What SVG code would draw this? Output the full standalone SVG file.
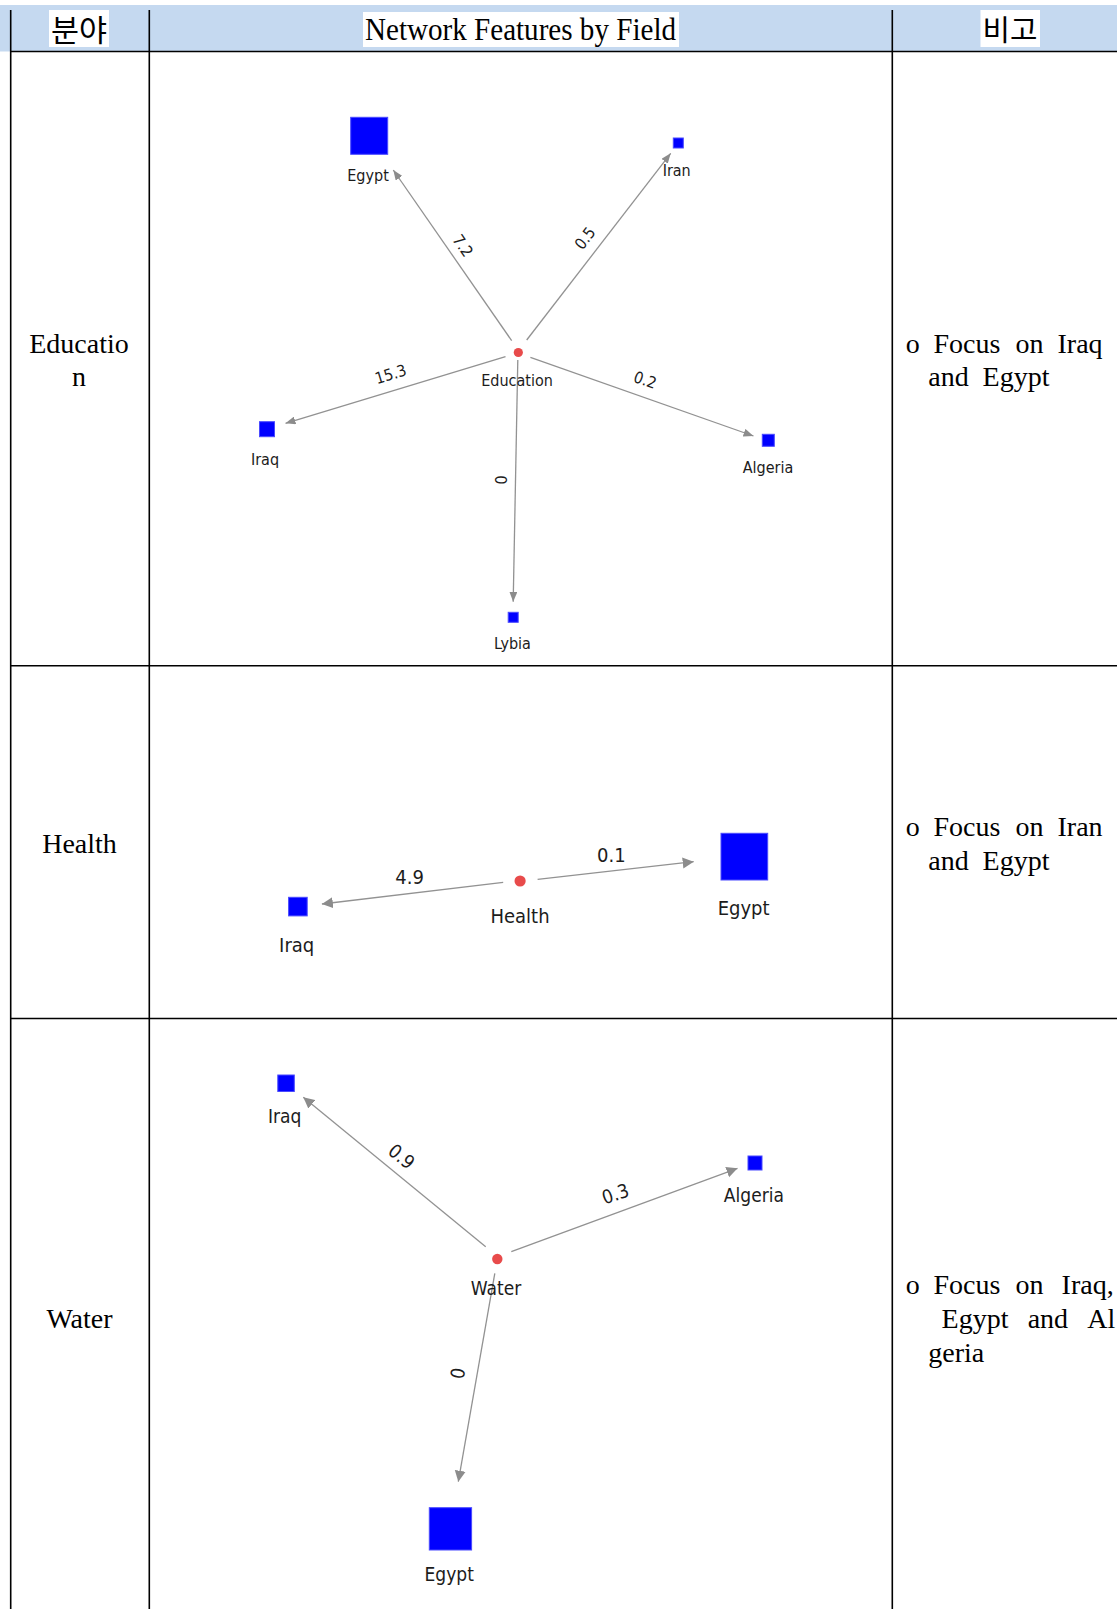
<svg xmlns="http://www.w3.org/2000/svg" width="1117" height="1609" viewBox="0 0 1117 1609">
  <style>
    .grid { stroke: #000; stroke-width: 1.6; fill: none; }
    .serif { font-family: "Liberation Serif", "Times New Roman", serif; font-size: 28px; fill: #000; }
    .kr { font-family: "Noto Sans CJK KR", sans-serif; fill: #000; }
    .lbl { font-family: "DejaVu Sans Condensed", "DejaVu Sans", sans-serif; fill: #1c1c1c; text-anchor: middle; }
    .s16 { font-size: 16px; }
    .s19 { font-size: 19px; }
    .s20 { font-size: 20px; }
    .sq { fill: #0000ff; stroke: #4a4aff; stroke-width: 1; }
    .hub { fill: #e84b4b; }
    .edge { stroke: #929292; stroke-width: 1.3; fill: none; }
    .edge-s { marker-end: url(#arrow-s); }
    .edge-l { marker-end: url(#arrow-l); }
  </style>
  <defs>
    <marker id="arrow-s" viewBox="0 0 10 8" refX="10" refY="4" markerUnits="userSpaceOnUse" markerWidth="10" markerHeight="8" orient="auto">
      <path d="M0,0 L10,4 L0,8 z" fill="#8c8c8c"/>
    </marker>
    <marker id="arrow-l" viewBox="0 0 10 10" refX="10" refY="5" markerUnits="userSpaceOnUse" markerWidth="11" markerHeight="12" orient="auto">
      <path d="M0,0 L10,5 L0,10 z" fill="#8c8c8c"/>
    </marker>
  </defs>

  <rect width="1117" height="1609" fill="#fff"/>

  <!-- table header band -->
  <rect x="0" y="5" width="1117" height="46.5" fill="#c5d9f0"/>
  <g id="header">
    <rect x="49" y="10" width="60" height="37" fill="#fff"/>
    <text class="kr" x="51" y="41" font-size="30" textLength="56" lengthAdjust="spacingAndGlyphs">분야</text>
    <rect x="363" y="12" width="316" height="35" fill="#fff"/>
    <text class="serif" x="365" y="40" font-size="32" style="font-size:32px" textLength="311" lengthAdjust="spacingAndGlyphs">Network Features by Field</text>
    <rect x="980.5" y="10" width="59.5" height="37" fill="#fff"/>
    <text class="kr" x="982.5" y="41" font-size="29" textLength="55" lengthAdjust="spacingAndGlyphs">비고</text>
  </g>

  <!-- table rules -->
  <g id="table-grid" class="grid">
    <line x1="10.7" y1="10" x2="10.7" y2="1609"/>
    <line x1="149.3" y1="10" x2="149.3" y2="1609"/>
    <line x1="892.3" y1="10" x2="892.3" y2="1609"/>
    <line x1="10" y1="51.5" x2="1117" y2="51.5"/>
    <line x1="10" y1="665.7" x2="1117" y2="665.7"/>
    <line x1="10" y1="1018.5" x2="1117" y2="1018.5"/>
  </g>

  <!-- field names -->
  <g id="field-education">
    <text class="serif" x="79" y="352.7" text-anchor="middle">Educatio</text>
    <text class="serif" x="79" y="385.5" text-anchor="middle">n</text>
  </g>
  <g id="field-health">
    <text class="serif" x="79.5" y="853" text-anchor="middle">Health</text>
  </g>
  <g id="field-water">
    <text class="serif" x="79.5" y="1328" text-anchor="middle">Water</text>
  </g>

  <!-- remarks -->
  <g id="note-education" class="serif">
    <text y="353"><tspan x="905.7">o</tspan><tspan x="933.4">Focus</tspan><tspan x="1015.5">on</tspan><tspan x="1057.5">Iraq</tspan></text>
    <text y="386"><tspan x="928.3">and</tspan><tspan x="982.6">Egypt</tspan></text>
  </g>
  <g id="note-health" class="serif">
    <text y="836"><tspan x="905.7">o</tspan><tspan x="933.4">Focus</tspan><tspan x="1015.5">on</tspan><tspan x="1057.5">Iran</tspan></text>
    <text y="869.5"><tspan x="928.3">and</tspan><tspan x="982.6">Egypt</tspan></text>
  </g>
  <g id="note-water" class="serif">
    <text y="1293.5"><tspan x="905.7">o</tspan><tspan x="933.4">Focus</tspan><tspan x="1015.5">on</tspan><tspan x="1061.6">Iraq,</tspan></text>
    <text y="1328"><tspan x="941.6">Egypt</tspan><tspan x="1027.7">and</tspan><tspan x="1087.3">Al</tspan></text>
    <text y="1362"><tspan x="928.3">geria</tspan></text>
  </g>

  <!-- connectors -->
  <g id="connectors">
    <line class="edge edge-s" x1="511.7" y1="340.7" x2="393.3" y2="170"/>
    <line class="edge edge-s" x1="526.7" y1="340" x2="670.7" y2="153.3"/>
    <line class="edge edge-s" x1="505.5" y1="356.7" x2="285.5" y2="423.3"/>
    <line class="edge edge-s" x1="530.4" y1="357.3" x2="753.5" y2="436"/>
    <line class="edge edge-s" x1="517.8" y1="360" x2="513.2" y2="601.7"/>

    <line class="edge edge-l" x1="503.2" y1="882.3" x2="321.9" y2="904"/>
    <line class="edge edge-l" x1="537.6" y1="879.3" x2="693.7" y2="861.7"/>

    <line class="edge edge-l" x1="485.7" y1="1246.7" x2="303.3" y2="1097.3"/>
    <line class="edge edge-l" x1="511.3" y1="1251.7" x2="737.5" y2="1168.3"/>
    <line class="edge edge-l" x1="494.8" y1="1273.3" x2="458.3" y2="1481.7"/>

    <g class="lbl s16">
      <text transform="translate(462.7,245.7) rotate(55.3)" dy="5.5">7.2</text>
      <text transform="translate(585,238.3) rotate(-52.4)" dy="5.5">0.5</text>
      <text transform="translate(390.7,374.3) rotate(-16.8)" dy="5.5">15.3</text>
      <text transform="translate(645.2,380) rotate(19.4)" dy="5.5">0.2</text>
      <text transform="translate(500.6,480) rotate(91)" dy="5.5">0</text>
    </g>
    <g class="lbl s20">
      <text x="409.6" y="884.3">4.9</text>
      <text x="611.3" y="861.7">0.1</text>
    </g>
    <g class="lbl s19">
      <text transform="translate(401.5,1156.7) rotate(39.3)" dy="6.5">0.9</text>
      <text transform="translate(615.5,1194) rotate(-18)" dy="6.5">0.3</text>
      <text transform="translate(457.3,1373.3) rotate(100)" dy="6.5">0</text>
    </g>
  </g>

  <!-- Education network -->
  <g id="edu-hub">
    <circle class="hub" cx="518.3" cy="352.5" r="4.6"/>
    <text class="lbl s16" x="517" y="386">Education</text>
  </g>
  <g id="edu-egypt">
    <rect class="sq" x="350.7" y="117.3" width="37" height="37"/>
    <text class="lbl s16" x="368" y="181">Egypt</text>
  </g>
  <g id="edu-iran">
    <rect class="sq" x="673.3" y="138" width="10" height="10"/>
    <text class="lbl s16" x="676.7" y="176">Iran</text>
  </g>
  <g id="edu-iraq">
    <rect class="sq" x="259.5" y="421.7" width="15" height="15"/>
    <text class="lbl s16" x="265" y="465">Iraq</text>
  </g>
  <g id="edu-algeria">
    <rect class="sq" x="762.3" y="434.3" width="12" height="12"/>
    <text class="lbl s16" x="768" y="473">Algeria</text>
  </g>
  <g id="edu-lybia">
    <rect class="sq" x="508.2" y="612.3" width="10" height="10"/>
    <text class="lbl s16" x="512.4" y="648.5">Lybia</text>
  </g>

  <!-- Health network -->
  <g id="health-hub">
    <circle class="hub" cx="520.1" cy="881" r="5.6"/>
    <text class="lbl s20" x="520" y="922.7">Health</text>
  </g>
  <g id="health-iraq">
    <rect class="sq" x="288.6" y="897.3" width="18.6" height="18.6"/>
    <text class="lbl s20" x="296.7" y="951.7">Iraq</text>
  </g>
  <g id="health-egypt">
    <rect class="sq" x="721" y="833.3" width="46.7" height="46.7"/>
    <text class="lbl s20" x="743.6" y="915">Egypt</text>
  </g>

  <!-- Water network -->
  <g id="water-hub">
    <circle class="hub" cx="497.3" cy="1259" r="5.2"/>
    <text class="lbl s19" x="496" y="1295">Water</text>
  </g>
  <g id="water-iraq">
    <rect class="sq" x="277.8" y="1075" width="16.5" height="16.5"/>
    <text class="lbl s19" x="284.7" y="1122.7">Iraq</text>
  </g>
  <g id="water-algeria">
    <rect class="sq" x="748" y="1156" width="14" height="14"/>
    <text class="lbl s19" x="753.9" y="1201.7">Algeria</text>
  </g>
  <g id="water-egypt">
    <rect class="sq" x="429.3" y="1507.7" width="42.3" height="42.3"/>
    <text class="lbl s19" x="449.2" y="1580.7">Egypt</text>
  </g>
</svg>
